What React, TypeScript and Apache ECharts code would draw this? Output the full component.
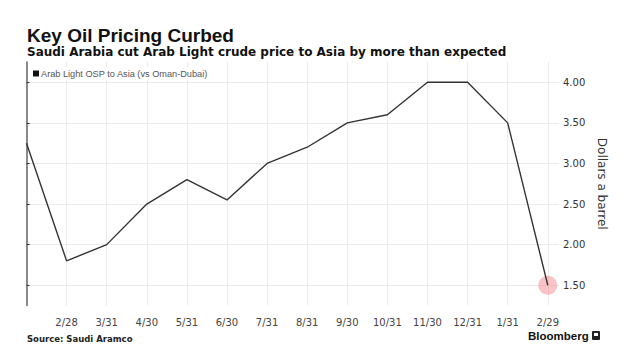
import React, { useEffect, useRef } from "react";
import * as echarts from "echarts";

const monthLabels = ["1/31", "2/28", "3/31", "4/30", "5/31", "6/30", "7/31", "8/31", "9/30", "10/31", "11/30", "12/31", "1/31", "2/29"];
const ospValues = [3.25, 1.8, 2.0, 2.5, 2.8, 2.55, 3.0, 3.2, 3.5, 3.6, 4.0, 4.0, 3.5, 1.5];
const yTicks = [1.5, 2.0, 2.5, 3.0, 3.5, 4.0];
const seriesName = "Arab Light OSP to Asia (vs Oman-Dubai)";

export default function App() {
  const ref = useRef<HTMLDivElement>(null);
  useEffect(() => {
    if (!ref.current) return;
    const chart = echarts.init(ref.current, null, { renderer: "svg" });
    const data = ospValues.map((v, i) => [i, v]);
    const last = data[data.length - 1];
    const xTickValues = monthLabels.map((_, i) => i);
    chart.setOption({
      animation: false,
      backgroundColor: "#ffffff",
      textStyle: { fontFamily: "DejaVu Sans" },
      legend: {
        data: [seriesName],
        left: 29,
        top: 67,
        icon: "rect",
        itemWidth: 6,
        itemHeight: 6,
        itemGap: 4,
        padding: [2, 4, 2, 4],
        backgroundColor: "#ffffff",
        textStyle: { fontSize: 9.2, color: "#555", fontFamily: "Liberation Sans", padding: [0, 0, 0, -3] },
      },
      grid: { left: 26.5, right: 61, top: 62, bottom: 53.5 },
      xAxis: {
        type: "value",
        min: 0,
        max: 13.28,
        axisLine: { show: false },
        axisTick: { show: false, customValues: xTickValues },
        splitLine: { show: true, lineStyle: { color: "#ebebeb", width: 1 } },
        axisLabel: {
          fontSize: 10,
          color: "#444",
          margin: 12,
          customValues: xTickValues,
          formatter: (v: number) => (Number.isInteger(v) && v >= 1 && v < monthLabels.length ? monthLabels[v] : ""),
        },
      },
      yAxis: {
        type: "value",
        position: "right",
        min: 1.25,
        max: 4.25,
        name: "Dollars a barrel",
        nameLocation: "middle",
        nameRotate: -90,
        nameGap: 32,
        nameTextStyle: { fontSize: 12, color: "#333" },
        axisLine: { show: true, lineStyle: { color: "#666", width: 1.5 } },
        axisTick: { show: true, length: 3, lineStyle: { color: "#333" }, customValues: yTicks },
        splitLine: { show: true, lineStyle: { color: "#ebebeb", width: 1 } },
        axisLabel: {
          fontSize: 10,
          color: "#333",
          margin: 4,
          customValues: yTicks,
          formatter: (v: number) => v.toFixed(2),
        },
      },
      series: [
        {
          name: seriesName,
          type: "line",
          data,
          symbol: "none",
          lineStyle: { color: "#333333", width: 1.4 },
          itemStyle: { color: "#111111" },
        },
        {
          name: "highlight",
          type: "scatter",
          data: [last],
          symbolSize: 19,
          itemStyle: { color: "rgba(238,120,130,0.55)" },
          z: 1,
        },
      ],
      graphic: [
        {
          type: "text",
          x: 27,
          y: 35,
          style: {
            text: "Key Oil Pricing Curbed",
            fontSize: 19,
            fontWeight: "bold",
            fill: "#111",
            fontFamily: "Liberation Sans",
            verticalAlign: "middle",
          },
        },
        {
          type: "text",
          x: 27,
          y: 52,
          style: {
            text: "Saudi Arabia cut Arab Light crude price to Asia by more than expected",
            fontSize: 12,
            fontWeight: "bold",
            fill: "#111",
            fontFamily: "DejaVu Sans",
            verticalAlign: "middle",
          },
        },
        {
          type: "text",
          x: 27,
          y: 339,
          style: { text: "Source: Saudi Aramco", fontSize: 8.5, fontWeight: "bold", fill: "#222", fontFamily: "DejaVu Sans", verticalAlign: "middle" },
        },
        {
          type: "text",
          x: 528,
          y: 336,
          style: { text: "Bloomberg", fontSize: 11.5, fontWeight: "bold", fill: "#111", fontFamily: "Liberation Sans", verticalAlign: "middle" },
        },
        {
          type: "rect",
          shape: { x: 592, y: 331, width: 8, height: 9, r: 1 },
          style: { fill: "#222" },
        },
        {
          type: "rect",
          shape: { x: 594, y: 333, width: 4, height: 3 },
          style: { fill: "#fff" },
        },
      ],
    });
    return () => chart.dispose();
  }, []);
  return <div ref={ref} style={{ width: 620, height: 359, position: "absolute", left: 0, top: 0 }} />;
}
